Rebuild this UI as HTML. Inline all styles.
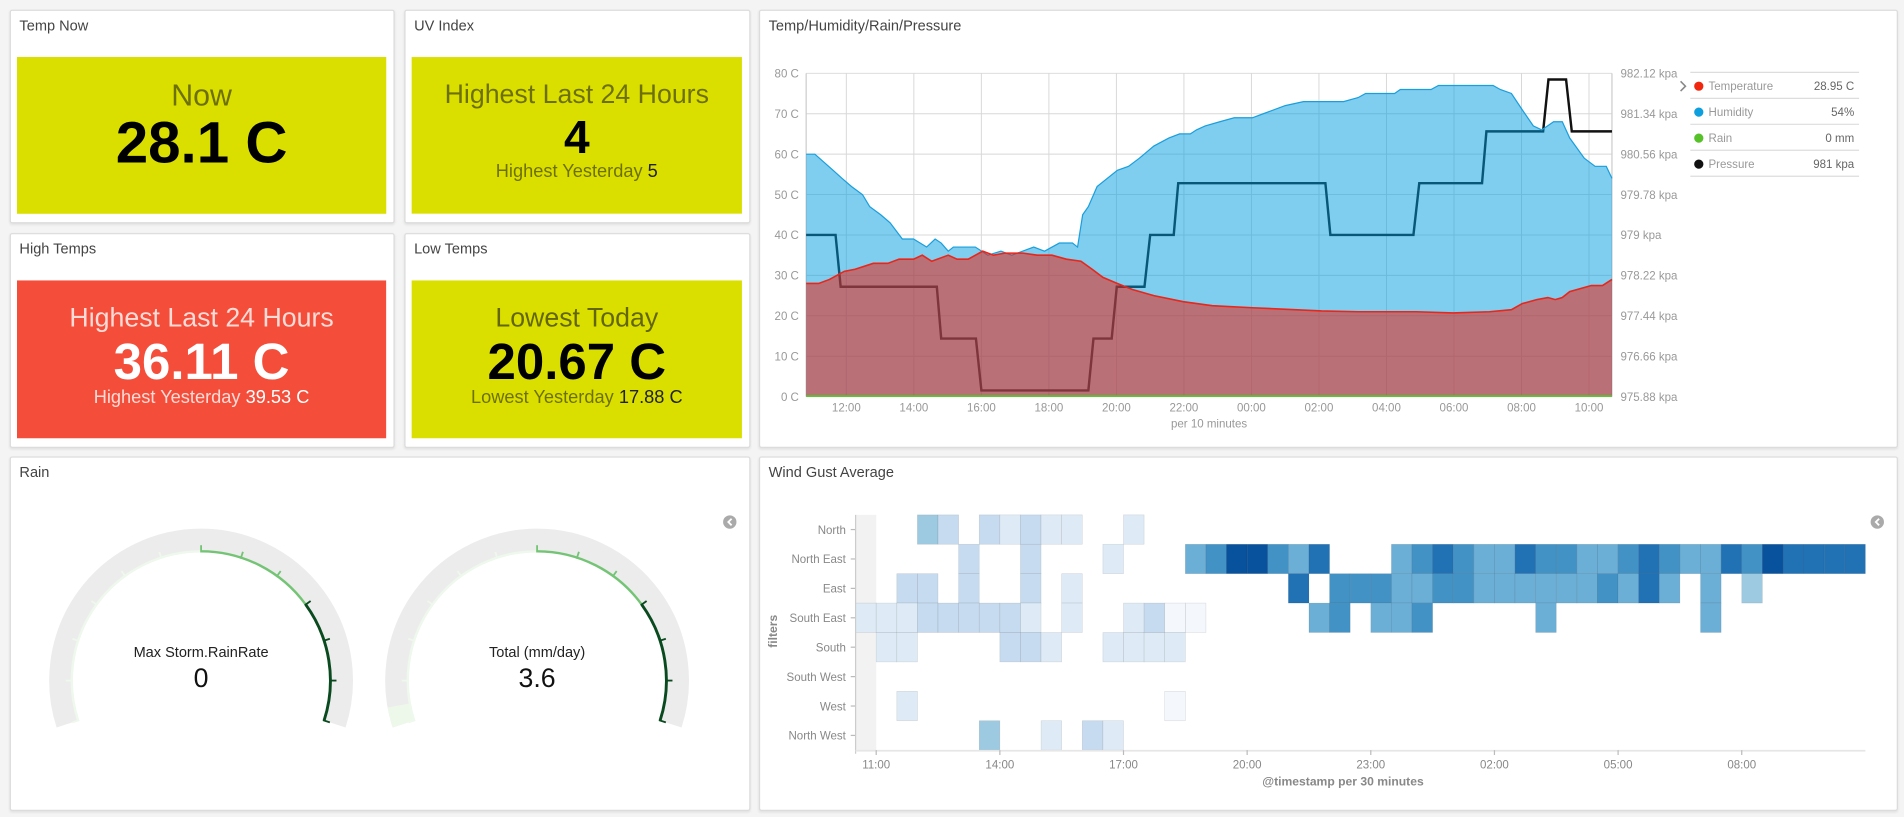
<!DOCTYPE html>
<html><head><meta charset="utf-8">
<style>
html,body{margin:0;padding:0;background:#f4f4f4;overflow:hidden}
#root{position:absolute;left:0;top:0;width:1568px;height:673px;transform:scale(1.21429,1.2140);transform-origin:0 0;font-family:"Liberation Sans",sans-serif;background:#f4f4f4}
.panel{position:absolute;background:#fff;border:1px solid #dcdcdc;border-radius:2px;box-shadow:0 1px 2px rgba(0,0,0,.08);box-sizing:border-box}
.ptitle{position:absolute;left:7px;top:5px;font-size:12px;color:#444}
.card{position:absolute;text-align:center;box-sizing:border-box}
.lbl{color:rgba(0,0,0,.5)}
svg{position:absolute;left:0;top:0;overflow:visible}
</style></head><body>
<div id="root">

<div class="panel" style="left:8px;top:8px;width:317px;height:176px">
 <div class="ptitle">Temp Now</div>
</div>
<div class="card" style="left:14px;top:47px;width:304px;height:129px;background:#dadf00">
 <div class="lbl" style="position:absolute;left:0;right:0;top:64px;font-size:26px;line-height:30px"></div>
</div>

<div class="panel" style="left:333px;top:8px;width:285px;height:176px">
 <div class="ptitle">UV Index</div>
</div>
<div class="panel" style="left:8px;top:192px;width:317px;height:177px">
 <div class="ptitle">High Temps</div>
</div>
<div class="panel" style="left:333px;top:192px;width:285px;height:177px">
 <div class="ptitle">Low Temps</div>
</div>
<div class="panel" style="left:625px;top:8px;width:938px;height:361px">
 <div class="ptitle">Temp/Humidity/Rain/Pressure</div>
</div>
<div class="panel" style="left:8px;top:376px;width:610px;height:292px">
 <div class="ptitle">Rain</div>
</div>
<div class="panel" style="left:625px;top:376px;width:938px;height:292px">
 <div class="ptitle">Wind Gust Average</div>
</div>

<!-- stat cards -->
<div class="card" style="left:14px;top:47px;width:304px;height:129px;background:#dadf00">
 <div class="lbl" style="position:absolute;left:0;right:0;top:18px;font-size:25px">Now</div>
 <div style="position:absolute;left:0;right:0;top:44px;font-size:48px;font-weight:bold;color:#000">28.1 C</div>
</div>
<div class="card" style="left:339px;top:47px;width:272px;height:129px;background:#dadf00">
 <div class="lbl" style="position:absolute;left:0;right:0;top:18px;font-size:22px">Highest Last 24 Hours</div>
 <div style="position:absolute;left:0;right:0;top:46px;font-size:38px;font-weight:bold;color:#000">4</div>
 <div style="position:absolute;left:0;right:0;top:86px;font-size:15px"><span class="lbl">Highest Yesterday</span> <span style="color:#222">5</span></div>
</div>
<div class="card" style="left:14px;top:231px;width:304px;height:130px;background:#f44e3b">
 <div style="position:absolute;left:0;right:0;top:18px;font-size:22px;color:rgba(255,255,255,.8)">Highest Last 24 Hours</div>
 <div style="position:absolute;left:0;right:0;top:43px;font-size:42px;font-weight:bold;color:#fff">36.11 C</div>
 <div style="position:absolute;left:0;right:0;top:88px;font-size:15px"><span style="color:rgba(255,255,255,.8)">Highest Yesterday</span> <span style="color:#fff">39.53 C</span></div>
</div>
<div class="card" style="left:339px;top:231px;width:272px;height:130px;background:#dadf00">
 <div class="lbl" style="position:absolute;left:0;right:0;top:18px;font-size:22px;color:rgba(0,0,0,.55)">Lowest Today</div>
 <div style="position:absolute;left:0;right:0;top:43px;font-size:42px;font-weight:bold;color:#000">20.67 C</div>
 <div style="position:absolute;left:0;right:0;top:88px;font-size:15px"><span class="lbl">Lowest Yesterday</span> <span style="color:#222">17.88 C</span></div>
</div>

<svg id="tchart" width="1568" height="673"></svg>
<svg id="gauges" width="1568" height="673"></svg>
<svg id="heat" width="1568" height="673"></svg>
</div>

<script>
// ---------- Temp/Humidity chart data (hours since 00:00 day 1) ----------
const humTimes = [10.81,11.07,11.61,11.87,12.15,12.48,12.69,13.02,13.30,13.66,13.99,14.38,14.63,14.81,15.02,15.17,15.82,16.19,16.58,16.90,17.55,17.87,18.31,18.70,18.85,19.00,19.17,19.43,20.03,20.36,20.68,21.11,21.55,21.87,22.19,22.37,22.63,23.06,23.49,24.03,24.35,25.00,25.54,26.73,27.16,27.38,28.24,28.41,29.32,29.54,31.16,31.37,31.70,32.02,32.35,32.60,32.95,33.21,33.43,33.86,34.18,34.51,34.68];
const humValues = [60,60,56,54,52,50,47,45,43,39,39,37,39,38,36,37,37,35,36,35,37,36,38,38,37,45,47,52,56,57,59,62,64,65,65,66,67,68,69,69,70,72,73,73,74,75,75,76,76,77,77,76,75,71,67,66,68,68,64,59,57,57,54];
const tempTimes = [10.81,11.18,11.50,11.94,12.26,12.80,13.23,13.56,13.99,14.25,14.53,15.02,15.28,15.61,16.04,16.36,16.69,17.23,17.66,18.09,18.52,18.95,19.28,19.60,20.03,20.47,21.11,21.98,22.84,24.03,26.08,27.16,28.89,29.97,31.05,31.70,32.02,32.45,32.78,33.00,33.21,33.43,34.07,34.40,34.68];
const tempValues = [28,28,29,31,31.5,33,33,34,34,35,33.5,35,34,34,36,35,35.5,35.5,35,35,34,33.5,31.5,29.5,28,26.5,25,23.5,22.5,22,21.2,21,21,20.7,21,21.5,23,24,24.5,24,24.5,26,27.5,27.5,29];
const presTimes = [10.81,11.68,11.83,14.68,14.81,15.84,16.00,19.17,19.32,19.86,20.01,20.83,21.00,21.70,21.83,26.19,26.34,28.80,28.97,30.83,30.96,32.64,32.80,33.32,33.49,34.68];
const presValues = [979,979,978,978,977,977,976,976,977,977,978,978,979,979,980,980,979,979,980,980,981,981,982,982,981,981];
const rainTimes = [10.81,34.68];
const rainValues = [0,0];
const leftTicks = [0,10,20,30,40,50,60,70,80];
const rightTicks = ["975.88","976.66","977.44","978.22","979","979.78","980.56","981.34","982.12"];
const timeTicks = [12,14,16,18,20,22,24,26,28,30,32,34];
const legendNames = ["Temperature","Humidity","Rain","Pressure"];
const legendValues = ["28.95 C","54%","0 mm","981 kpa"];

// ---------- Heatmap data ----------
const heatRows = ["North","North East","East","South East","South","South West","West","North West"];
const heatTicks = ["11:00","14:00","17:00","20:00","23:00","02:00","05:00","08:00"];
const heatTickCols = [1,7,13,19,25,31,37,43];
const rowNorth = [0,0,0,4,3,0,3,2,3,2, 2,0,0,2,0,0,0,0,0,0, 0,0,0,0,0,0,0,0,0,0, 0,0,0,0,0,0,0,0,0,0, 0,0,0,0,0,0,0,0,0];
const rowNorthEast = [0,0,0,0,0,3,0,0,3,0, 0,0,2,0,0,0,5,6,8,8, 6,5,7,0,0,0,5,6,7,6, 5,5,7,6,6,5,5,6,7,6, 5,5,7,6,8,7,7,7,7];
const rowEast = [0,0,3,3,0,3,0,0,3,0, 2,0,0,0,0,0,0,0,0,0, 0,7,0,6,6,6,5,5,6,6, 5,5,5,5,5,5,6,5,7,5, 0,5,0,4,0,0,0,0,0];
const rowSouthEast = [2,2,2,3,3,3,3,3,2,0, 2,0,0,2,3,1,1,0,0,0, 0,0,5,6,0,5,5,6,0,0, 0,0,0,5,0,0,0,0,0,0, 0,5,0,0,0,0,0,0,0];
const rowSouth = [0,2,2,0,0,0,0,3,3,2, 0,0,2,2,2,2,0,0,0,0, 0,0,0,0,0,0,0,0,0,0, 0,0,0,0,0,0,0,0,0,0, 0,0,0,0,0,0,0,0,0];
const rowSouthWest = [0,0,0,0,0,0,0,0,0,0, 0,0,0,0,0,0,0,0,0,0, 0,0,0,0,0,0,0,0,0,0, 0,0,0,0,0,0,0,0,0,0, 0,0,0,0,0,0,0,0,0];
const rowWest = [0,0,2,0,0,0,0,0,0,0, 0,0,0,0,0,1,0,0,0,0, 0,0,0,0,0,0,0,0,0,0, 0,0,0,0,0,0,0,0,0,0, 0,0,0,0,0,0,0,0,0];
const rowNorthWest = [0,0,0,0,0,0,4,0,0,2, 0,3,2,0,0,0,0,0,0,0, 0,0,0,0,0,0,0,0,0,0, 0,0,0,0,0,0,0,0,0,0, 0,0,0,0,0,0,0,0,0];

// ---------- Gauge data ----------
const gaugeLabels = ["Max Storm.RainRate","Total (mm/day)"];
const gaugeValues = [0,3.6];
const gaugeMax = 100;

const NS = "http://www.w3.org/2000/svg";
function mk(parent, tag, attrs){ const e=document.createElementNS(NS,tag); for(const k in attrs) e.setAttribute(k,attrs[k]); parent.appendChild(e); return e; }

// ===== Temp chart =====
(function(){
 const svg=document.getElementById('tchart');
 const X0=663.9,X1=1327.5,Y0=326.7,Y1=60.4;
 const tMin=10.81,tMax=34.68;
 const xT=h=>X0+(h-tMin)/(tMax-tMin)*(X1-X0);
 const yT=c=>Y0-c/80*(Y0-Y1);
 const yP=p=>yT((p-975.88)/(982.12-975.88)*80);
 const g=mk(svg,'g',{});
 
 
 leftTicks.forEach((v,i)=>{
  const y=yT(v);
  const l=mk(g,'line',{x1:X0,x2:X1,y1:y,y2:y,stroke:'#d8d8d8','stroke-width':0.8});
  
  
  const t=mk(svg,'text',{x:X0-6,y:y+3.5,'text-anchor':'end','font-size':9.5,fill:'#999'}); t.textContent=v+' C';
  
  
  const t2=mk(svg,'text',{x:X1+7,y:y+3.5,'font-size':9.5,fill:'#999'}); t2.textContent=rightTicks[i]+' kpa';
  
  
 });
 timeTicks.forEach(h=>{
  const x=xT(h);
  const l=mk(g,'line',{x1:x,x2:x,y1:Y1,y2:Y0,stroke:'#d8d8d8','stroke-width':0.8});
  
  
  const t=mk(svg,'text',{x:x,y:339,'text-anchor':'middle','font-size':9.5,fill:'#999'});
  const hh=h%24; t.textContent=(hh<10?'0':'')+hh+':00';
  
  
 });
 mk(g,'line',{x1:X0,x2:X0,y1:Y1,y2:Y0,stroke:'#ccc'});
 mk(g,'line',{x1:X1,x2:X1,y1:Y1,y2:Y0,stroke:'#ccc'});
 const xt=mk(svg,'text',{x:(X0+X1)/2,y:352,'text-anchor':'middle','font-size':9.5,fill:'#999'}); xt.textContent='per 10 minutes';
 
 

 // pressure line (under areas)
 let pd=presTimes.map((t,i)=>(i?'L':'M')+xT(t).toFixed(1)+','+yP(presValues[i]).toFixed(1)).join('');
 const pl=mk(svg,'path',{d:pd,fill:'none',stroke:'#111','stroke-width':2});
 
 
 function area(times,vals,fill,stroke,sw,name){
  let d=times.map((t,i)=>(i?'L':'M')+xT(t).toFixed(1)+','+yT(vals[i]).toFixed(1)).join('');
  const a=mk(svg,'path',{d:d+'L'+xT(times[times.length-1]).toFixed(1)+','+Y0+'L'+xT(times[0]).toFixed(1)+','+Y0+'Z',fill:fill});
  
  
  const l=mk(svg,'path',{d:d,fill:'none',stroke:stroke,'stroke-width':sw});
  
  
 }
 area(humTimes,humValues,'rgba(0,156,224,0.5)','#1a9fdc',1,'humidity');
 area(tempTimes,tempValues,'rgba(245,19,0,0.5)','#e8261a',1.3,'temperature');
 let rd=rainTimes.map((t,i)=>(i?'L':'M')+xT(t)+','+(yT(rainValues[i])-0.5)).join('');
 const rl=mk(svg,'path',{d:rd,fill:'none',stroke:'#57c12a','stroke-width':1.5});
 
 

 // legend
 const colors=['#f0260f','#0d9fde','#57c12a','#111'];
 const ch=mk(svg,'path',{d:'M1384,67 L1388,71 L1384,75',fill:'none',stroke:'#888','stroke-width':1.3});
 
 
 const seps=[59.6,81,102.4,123.8,145.2];
 seps.forEach(y=>mk(svg,'line',{x1:1392,x2:1531,y1:y,y2:y,stroke:'#ddd','stroke-width':1}));
 legendNames.forEach((n,i)=>{
  const y=71+i*21.4;
  const gg=mk(svg,'g',{});
  
  
  mk(gg,'circle',{cx:1399,cy:y,r:3.8,fill:colors[i]});
  const t=mk(gg,'text',{x:1407,y:y+3.3,'font-size':9.5,fill:'#999'}); t.textContent=n;
  const v=mk(gg,'text',{x:1527,y:y+3.3,'font-size':9.5,fill:'#666','text-anchor':'end'}); v.textContent=legendValues[i];
 });
})();

// ===== Gauges =====
(function(){
 const svg=document.getElementById('gauges');
 const centers=[165.6,442.3], cy=560.6, R=115.8, W=18.6, Rin=106.5;
 const A0=198, A1=-18;
 const P=(cx,r,a)=>[cx+r*Math.cos(a*Math.PI/180), cy-r*Math.sin(a*Math.PI/180)];
 function arc(cx,r,a0,a1){ const p0=P(cx,r,a0),p1=P(cx,r,a1); const large=Math.abs(a0-a1)>180?1:0; return 'M'+p0[0].toFixed(2)+','+p0[1].toFixed(2)+' A'+r+','+r+' 0 '+large+' 1 '+p1[0].toFixed(2)+','+p1[1].toFixed(2); }
 centers.forEach((cx,gi)=>{
  const g=mk(svg,'g',{});
  
  
  mk(g,'path',{d:arc(cx,R,A0,A1),fill:'none',stroke:'#ececec','stroke-width':W});
  const va=A0-(gaugeValues[gi]/gaugeMax)*(A0-A1);
  if(gaugeValues[gi]>0){
   const f=mk(g,'path',{d:arc(cx,R,A0,va),fill:'none',stroke:'#eef8ea','stroke-width':W});
   
   
  }
  const segs=[[A0,90,'#eef8ec'],[90,36,'#74c476'],[36,A1,'#0a4a1f']];
  segs.forEach(s=>mk(g,'path',{d:arc(cx,Rin,s[0],s[1]),fill:'none',stroke:s[2],'stroke-width':s[2]=='#0a4a1f'?2.4:2}));
  for(let a=A0;a>=A1-0.1;a-=18){
   const c=a>90?'#eef8ec':(a>36?'#74c476':'#0a4a1f');
   const p0=P(cx,Rin-1,a),p1=P(cx,Rin+5,a);
   mk(g,'line',{x1:p0[0],y1:p0[1],x2:p1[0],y2:p1[1],stroke:c,'stroke-width':1.5});
  }
  const t=mk(g,'text',{x:cx,y:541,'text-anchor':'middle','font-size':12,fill:'#222'}); t.textContent=gaugeLabels[gi];
  
  
  const v=mk(g,'text',{x:cx,y:566,'text-anchor':'middle','font-size':22,fill:'#111'}); v.textContent=gaugeValues[gi];
  
  
 });
 const b=mk(svg,'g',{});
 
 
 mk(b,'circle',{cx:601,cy:430,r:5.5,fill:'#aaa'});
 mk(b,'path',{d:'M602.5,427.3 L599.8,430 L602.5,432.7',fill:'none',stroke:'#fff','stroke-width':1.5});
})();

// ===== Heatmap =====
(function(){
 const svg=document.getElementById('heat');
 const rows=[rowNorth,rowNorthEast,rowEast,rowSouthEast,rowSouth,rowSouthWest,rowWest,rowNorthWest];
 const palette=[null,'#f4f8fd','#deebf7','#c6dbef','#9ecae1','#6baed6','#4292c6','#2171b5','#08519c'];
 const X0=704.6,X1=1536.2,Y0=424.1,Y1=617.9;
 const nCols=rowNorth.length;
 const cw=(X1-X0)/nCols, rh=(Y1-Y0)/heatRows.length;
 const xH=i=>X0+i*cw, yH=r=>Y0+r*rh;
 mk(svg,'rect',{x:X0,y:Y0,width:cw,height:Y1-Y0,fill:'#f2f2f2'});
 rows.forEach((row,r)=>{
  row.forEach((v,i)=>{
   if(!v) return;
   const c=mk(svg,'rect',{x:xH(i).toFixed(2),y:yH(r).toFixed(2),width:cw.toFixed(2),height:rh.toFixed(2),fill:palette[v],stroke:'rgba(0,0,0,0.12)','stroke-width':0.5});
   
   
  });
  const t=mk(svg,'text',{x:X0-8,y:yH(r)+rh/2+3.5,'text-anchor':'end','font-size':9.5,fill:'#888'}); t.textContent=heatRows[r];
  
  
  mk(svg,'line',{x1:X0-4,x2:X0,y1:yH(r)+rh/2,y2:yH(r)+rh/2,stroke:'#bbb'});
 });
 mk(svg,'line',{x1:X0,x2:X0,y1:Y0,y2:Y1+3,stroke:'#ccc'});
 mk(svg,'line',{x1:X0,x2:X1,y1:Y1+0.5,y2:Y1+0.5,stroke:'#e6e6e6','stroke-width':1.5});
 heatTicks.forEach((lab,k)=>{
  const x=xH(heatTickCols[k]);
  mk(svg,'line',{x1:x,x2:x,y1:Y1,y2:Y1+4,stroke:'#bbb'});
  const t=mk(svg,'text',{x:x,y:633,'text-anchor':'middle','font-size':9.5,fill:'#888'}); t.textContent=lab;
  
  
 });
 const xt=mk(svg,'text',{x:1106,y:647,'text-anchor':'middle','font-size':10,'font-weight':'bold',fill:'#888'}); xt.textContent='@timestamp per 30 minutes';
 
 
 const yt=mk(svg,'text',{x:0,y:0,'text-anchor':'middle','font-size':10,'font-weight':'bold',fill:'#888',transform:'translate(640,520) rotate(-90)'}); yt.textContent='filters';
 
 
 const b=mk(svg,'g',{});
 
 
 mk(b,'circle',{cx:1546,cy:430,r:5.5,fill:'#aaa'});
 mk(b,'path',{d:'M1547.5,427.3 L1544.8,430 L1547.5,432.7',fill:'none',stroke:'#fff','stroke-width':1.5});
})();
</script>
</body></html>
